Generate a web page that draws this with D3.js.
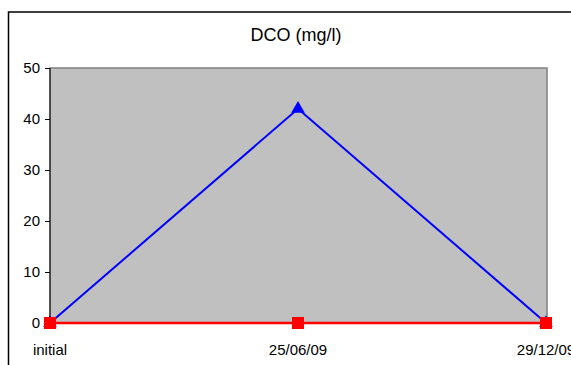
<!DOCTYPE html>
<html>
<head>
<script src="https://d3js.org/d3.v7.min.js"></script>
<style>
body { margin: 0; background: white; }
text { font-family: "Liberation Sans", Arial, sans-serif; }
</style>
</head>
<body>
<svg width="571" height="365"></svg>
<script>
var categories = ["initial", "25/06/09", "29/12/09"];
var blueValues = [0, 42, 0];
var redValues = [0, 0, 0];
var yTicks = [0, 10, 20, 30, 40, 50];

var svg = d3.select("svg");
var plotLeft = 50, plotRight = 546, plotTop = 68, plotBottom = 323;

// chart frame
svg.append("rect")
  .attr("x", 8.5).attr("y", 12)
  .attr("width", 600).attr("height", 400)
  .attr("fill", "white").attr("stroke", "black").attr("stroke-width", 1.5);

svg.append("text")
  .attr("x", 296).attr("y", 41)
  .attr("text-anchor", "middle")
  .style("font-size", "18px")
  .text("DCO (mg/l)");

var x = d3.scalePoint().domain(categories).range([plotLeft, plotRight]);
var y = d3.scaleLinear().domain([0, 50]).range([plotBottom, plotTop]);

// plot area
svg.append("rect")
  .attr("x", plotLeft).attr("y", plotTop)
  .attr("width", plotRight - plotLeft + 1).attr("height", plotBottom - plotTop)
  .attr("fill", "#c0c0c0").attr("stroke", "#808080").attr("stroke-width", 1.5);

var yAxis = svg.append("g")
  .attr("transform", "translate(" + plotLeft + ",0)")
  .call(d3.axisLeft(y).tickValues(yTicks).tickSize(5).tickPadding(5));
yAxis.select(".domain").attr("stroke", "black").attr("d", "M0," + plotTop + "V" + plotBottom);
yAxis.selectAll("text").style("font-size", "15px").style("font-family", "Liberation Sans, Arial, sans-serif");

svg.append("g")
  .selectAll("text").data(categories).enter().append("text")
  .attr("x", function(d) { return x(d); })
  .attr("y", 355)
  .attr("text-anchor", "middle")
  .style("font-size", "15px")
  .text(function(d) { return d; });

var line = d3.line()
  .x(function(d, i) { return x(categories[i]); })
  .y(function(d) { return y(d); });

svg.append("path").datum(blueValues)
  .attr("d", line).attr("fill", "none").attr("stroke", "blue").attr("stroke-width", 2);

svg.append("g").selectAll("path").data(blueValues).enter().append("path")
  .attr("transform", function(d, i) { return "translate(" + x(categories[i]) + "," + y(d) + ")"; })
  .attr("d", d3.symbol().type(d3.symbolTriangle).size(80))
  .attr("fill", "blue");

svg.append("path").datum(redValues)
  .attr("d", line).attr("fill", "none").attr("stroke", "red").attr("stroke-width", 2.5);

svg.append("g").selectAll("rect").data(redValues).enter().append("rect")
  .attr("x", function(d, i) { return x(categories[i]) - 6; })
  .attr("y", function(d) { return y(d) - 6; })
  .attr("width", 12).attr("height", 12)
  .attr("fill", "red");
</script>
</body>
</html>
